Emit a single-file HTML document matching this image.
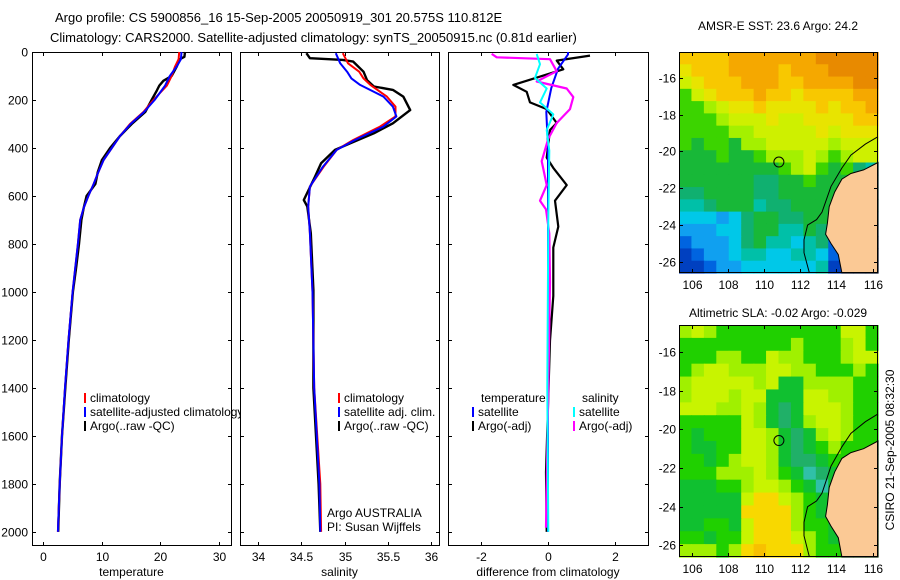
<!DOCTYPE html>
<html><head><meta charset="utf-8">
<style>
html,body{margin:0;padding:0;background:#fff;}
svg{display:block;font-family:"Liberation Sans",sans-serif;}
text{font-size:12px;fill:#000;}
</style></head>
<body>
<svg id="fig" width="900" height="580" viewBox="0 0 900 580" xmlns="http://www.w3.org/2000/svg">
<text x="55" y="22" style="font-size:13px">Argo profile: CS 5900856_16 15-Sep-2005 20050919_301 20.575S 110.812E</text>
<text x="50" y="42" style="font-size:13px">Climatology: CARS2000. Satellite-adjusted climatology: synTS_20050915.nc (0.81d earlier)</text>
<text x="778" y="30" text-anchor="middle">AMSR-E SST: 23.6 Argo: 24.2</text>
<text x="778" y="317" text-anchor="middle">Altimetric SLA: -0.02 Argo: -0.029</text>
<text transform="translate(894,450) rotate(-90)" text-anchor="middle">CSIRO 21-Sep-2005 08:32:30</text>
</svg>
<script>
// ---- data ----
const depthTicks = [0,200,400,600,800,1000,1200,1400,1600,1800,2000];
const tempTicks = [0,10,20,30];
const salTicks = [34,34.5,35,35.5,36];
const salTickLabels = ["34","34.5","35","35.5","36"];
const diffTicks = [-2,0,2];
const lonTicks = [106,108,110,112,114,116];
const latTicks = [-16,-18,-20,-22,-24,-26];

const tArgoDepth = [0,20,30,60,100,120,140,160,200,250,300,350,400,450,500,550,600,650,700,800,900,1000,1200,1400,1600,1800,2000];
const tArgo = [24.2,24.1,23.3,22.8,21.9,20.5,19.8,19.4,18.5,17.4,15.1,13.1,11.4,10.0,9.3,8.9,7.4,6.9,6.5,6.1,5.6,5.05,4.35,3.75,3.2,2.8,2.55];
const tClimDepth = [0,30,60,100,140,200,250,300,350,400,450,500,550,600,650,700,800,1000,1200,1400,1600,1800,2000];
const tClim = [23.2,23.1,22.5,21.9,21.1,18.8,17.1,14.8,13.1,11.7,10.3,9.4,8.6,7.7,6.9,6.3,5.9,5.0,4.3,3.7,3.2,2.8,2.5];
const tSat = [23.6,23.5,22.8,21.6,20.8,19.0,17.2,14.9,13.1,11.7,10.3,9.4,8.6,7.7,6.9,6.3,5.9,5.0,4.3,3.7,3.2,2.8,2.5];

const sArgoDepth = [5,26,33,40,82,117,144,158,186,242,297,339,380,408,464,519,617,644,755,992,1400,1800,2000];
const sArgo = [34.56,34.6,34.98,35.10,35.22,35.26,35.34,35.56,35.68,35.76,35.56,35.34,35.07,34.89,34.73,34.66,34.53,34.57,34.61,34.64,34.64,34.70,34.72];
const sClimDepth = [5,47,82,110,137,186,228,269,311,367,408,478,561,644,755,1000,1400,1800,2000];
const sClim = [34.98,35.04,35.17,35.22,35.30,35.49,35.59,35.59,35.41,35.10,34.91,34.76,34.60,34.58,34.60,34.63,34.65,34.72,34.73];
const sSat = [34.90,34.95,35.03,35.08,35.18,35.45,35.56,35.60,35.45,35.12,34.91,34.75,34.60,34.58,34.60,34.63,34.65,34.71,34.72];

const dTArgoDepth = [15,36,72,137,166,210,238,296,325,440,483,555,620,728,815,1017,1204,1752,2000];
const dTArgo = [1.26,0.26,0.46,-1.04,-0.64,-0.54,-0.04,0.26,0.06,-0.04,0.16,0.56,0.21,0.31,0.16,0.16,0.06,-0.06,-0.04];
const dTSatDepth = [0,10,70,150,250,400,1000,2000];
const dTSat = [0.6,0.6,0.3,0.1,-0.05,0.0,0.0,0.0];
const dSArgoDepth = [8,22,30,80,123,152,188,238,296,361,455,555,620,656,757,959,1300,1983];
const dSArgo = [-1.69,-1.54,0.06,0.26,-0.34,0.56,0.76,0.66,0.26,0.01,-0.19,-0.04,-0.24,-0.06,0.04,0.06,0.02,-0.06];
const dSSatDepth = [8,51,108,152,210,260,325,411,700,1400,2000];
const dSSat = [-0.34,-0.24,-0.39,-0.04,-0.24,0.16,-0.04,0.04,0.01,-0.02,0.01];

const sstGrid = [
"YYYYoooooooOOOOO","yYYYooooYoooOOOO","ZyYYYoooYYooooOO","GZyYYYoYYyYYYYoo",
"GGLZyyYyyyyYyYYo","GGGLZZZyZZyyyyYY","GGGGLLZZZZZyZyyy","GgGGgLLZZZZZLZZZ",
"gggGggGLLLZLGLZZ","ggggggggGLZGgGtc","ggggggttggGgggcc","ttggggttgggggtcc",
"cctgggcttggggccc","CCCbCtggttggcCCC","bbbCCtggccgtcbbb","BbbbCtgccCctBBBB",
"DBbbCccCCccCBDDD","DDBbbCCCCCCcDDDD"];
const slaGrid = [
"LZLGGGGGGGGGGZZG","GGGGGGGGGLGGGLZG","GGGLLGGZLLGGGLZZ","GLZZLLLZZLLGGGLG",
"LZZZZZLZggLLLLGG","LZZZLZZgggZZLLGG","ZZZLLZLgtgZZZLGG","GGGGGZLgtgLZZLGG",
"GgGGGZZLgtgLZLGG","GggGGZZLgtgGLGGG","GGgGLZZLgttgGGGG","GGGLLLZLGgctgGGG",
"gggGGLZZLGgcgGGG","gggggZYYZLGgGGGG","gggggYYYYLGgGGGG","ggGGgZYYYLGGgGGG",
"GGgGGZYYYZLGgGGG","LLLGLYoYYYLGGGGG"];
const sstColors = {O:"#e88a00",o:"#f5a800",Y:"#f8c800",y:"#e8e400",Z:"#cef000",L:"#a4f000",G:"#3cd400",g:"#18b838",t:"#10b070",c:"#00c0a8",C:"#00c8e8",b:"#10a0f0",B:"#0064e0",D:"#0040c0"};
const slaColors = {G:"#20d000",g:"#10c030",t:"#20b068",c:"#30c0a8",L:"#a0f000",Z:"#c8f400",y:"#e8f000",Y:"#f8d800",o:"#f8c000"};
const coastLon = [116.3,115.5,114.8,114.3,113.9,113.6,113.5,113.4,113.7,114.1,114.3,116.3];
const coastLat = [-20.6,-21.0,-21.2,-21.5,-22.2,-23.0,-23.9,-24.5,-25.0,-25.6,-26.6,-26.6];
const isoLon = [116.3,115.6,114.8,114.3,113.7,113.2,112.9,112.4,112.2,112.2,112.5];
const isoLat = [-19.2,-19.6,-20.2,-20.9,-21.9,-23.3,-23.7,-24.0,-24.8,-25.5,-26.6];
const argoLon = 110.812, argoLat = -20.575;

// ---- helpers ----
const NS = "http://www.w3.org/2000/svg";
const svg = document.getElementById("fig");
function mk(tag, attrs, parent) {
  const e = document.createElementNS(NS, tag);
  for (const k in attrs) e.setAttribute(k, attrs[k]);
  (parent || svg).appendChild(e);
  return e;
}
const Y0 = 52, Y1 = 545, DMAX = 2055;
function yD(d) { return Y0 + (Y1 - Y0) * d / DMAX; }
function lin(d0, d1, r0, r1) { return v => r0 + (v - d0) * (r1 - r0) / (d1 - d0); }

const panels = [
  {name:"temperature", x0:32, x1:231, sx: lin(0,30,43.3,219), ticks: tempTicks, labels: tempTicks.map(String), xlabel:"temperature", depthLabels:true},
  {name:"salinity", x0:240, x1:439, sx: lin(34,36,258,431), ticks: salTicks, labels: salTickLabels, xlabel:"salinity", depthLabels:false},
  {name:"difference", x0:448, x1:648, sx: lin(-3,3,448,648), ticks: diffTicks, labels: diffTicks.map(String), xlabel:"difference from climatology", depthLabels:false}
];

panels.forEach(p => {
  const g = mk("g", {});
  
  
  const fr = mk("rect", {x:p.x0+0.5, y:Y0+0.5, width:p.x1-p.x0, height:Y1-Y0, fill:"#fff", stroke:"#000", "stroke-width":1}, g);
  
  
  depthTicks.forEach(d => {
    const y = Math.round(yD(d)) + 0.5;
    const t1 = mk("line", {x1:p.x0, y1:y, x2:p.x0+4, y2:y, stroke:"#000"}, g);
    
    
    const t2 = mk("line", {x1:p.x1-3, y1:y, x2:p.x1+1, y2:y, stroke:"#000"}, g);
    
    
    if (p.depthLabels) {
      const tl = mk("text", {x:28, y:y+4, "text-anchor":"end"}, g);
      
      
      tl.textContent = d;
    }
  });
  p.ticks.forEach((v, i) => {
    const x = Math.round(p.sx(v)) + 0.5;
    const b = mk("line", {x1:x, y1:Y1-3, x2:x, y2:Y1+1, stroke:"#000"}, g);
    
    
    const t = mk("line", {x1:x, y1:Y0, x2:x, y2:Y0+4, stroke:"#000"}, g);
    
    
    const tl = mk("text", {x:x, y:561, "text-anchor":"middle"}, g);
    
    
    tl.textContent = p.labels[i];
  });
  const xl = mk("text", {x:(p.x0+p.x1)/2, y:576, "text-anchor":"middle"}, g);
  
  
  xl.textContent = p.xlabel;
  p.g = g;
});
const dl = mk("text", {x:28, y:Y0+4, "text-anchor":"end"});



function profile(p, depths, vals, color, w, name) {
  const pts = depths.map((d, i) => p.sx(vals[i]).toFixed(1) + "," + yD(d).toFixed(1)).join(" ");
  const pl = mk("polyline", {points:pts, fill:"none", stroke:color, "stroke-width":w, "stroke-linejoin":"round"}, p.g);
  
  
}
const [P1, P2, P3] = panels;
profile(P1, tArgoDepth, tArgo, "#000", 2.4, "temp-argo-line");
profile(P1, tClimDepth, tClim, "#f00", 2, "temp-climatology-line");
profile(P1, tClimDepth, tSat, "#00f", 2, "temp-satellite-line");
profile(P2, sArgoDepth, sArgo, "#000", 2.4, "sal-argo-line");
profile(P2, sClimDepth, sClim, "#f00", 2, "sal-climatology-line");
profile(P2, sClimDepth, sSat, "#00f", 2, "sal-satellite-line");
profile(P3, dTArgoDepth, dTArgo, "#000", 2.2, "diff-temp-argo-line");
profile(P3, dTSatDepth, dTSat, "#00f", 2, "diff-temp-satellite-line");
profile(P3, dSArgoDepth, dSArgo, "#f0f", 2.2, "diff-sal-argo-line");
profile(P3, dSSatDepth, dSSat, "#0ff", 2, "diff-sal-satellite-line");

function legend(g, x, y, color, label, name) {
  if (color) {
    const m = mk("rect", {x:x, y:y-9, width:2, height:10, fill:color}, g);
    
    
  }
  const t = mk("text", {x:x+6, y:y}, g);
  
  
  t.textContent = label;
}
legend(P1.g, 84, 402, "#f00", "climatology", "legend-t-climatology");
legend(P1.g, 84, 416, "#00f", "satellite-adjusted climatology", "legend-t-satellite");
legend(P1.g, 84, 430, "#000", "Argo(..raw -QC)", "legend-t-argo");
// panel 2 covers overflow of panel-1 legend
P2.g.parentNode.appendChild(P2.g);
legend(P2.g, 338, 402, "#f00", "climatology", "legend-s-climatology");
legend(P2.g, 338, 416, "#00f", "satellite adj. clim.", "legend-s-satellite");
legend(P2.g, 338, 430, "#000", "Argo(..raw -QC)", "legend-s-argo");
legend(P2.g, 321, 517, null, "Argo AUSTRALIA", "argo-australia-label");
legend(P2.g, 321, 531, null, "PI: Susan Wijffels", "pi-label");
legend(P3.g, 475, 402, null, "temperature", "legend-temperature-header");
legend(P3.g, 472, 416, "#00f", "satellite", "legend-d-temp-satellite");
legend(P3.g, 472, 430, "#000", "Argo(-adj)", "legend-d-temp-argo");
legend(P3.g, 576, 402, null, "salinity", "legend-salinity-header");
legend(P3.g, 573, 416, "#0ff", "satellite", "legend-d-sal-satellite");
legend(P3.g, 573, 430, "#f0f", "Argo(-adj)", "legend-d-sal-argo");

// ---- maps ----
function drawMap(name, y0, y1, grid, colors) {
  const x0 = 679, x1 = 878;
  const sx = lin(105.28, 116.3, x0, x1);
  const sy = lin(-14.6, -26.6, y0, y1);
  const g = mk("g", {});
  
  
  const cw = (x1 - x0) / grid[0].length, ch = (y1 - y0) / grid.length;
  grid.forEach((row, r) => {
    for (let c = 0; c < row.length; c++) {
      const cell = mk("rect", {x:(x0 + c*cw).toFixed(2), y:(y0 + r*ch).toFixed(2), width:(cw+0.6).toFixed(2), height:(ch+0.6).toFixed(2), fill:colors[row[c]]}, g);
      
      
    }
  });
  const land = mk("polygon", {points: coastLon.map((l,i)=>sx(l).toFixed(1)+","+sy(coastLat[i]).toFixed(1)).join(" "), fill:"#fbc995", stroke:"#000", "stroke-width":1}, g);
  
  
  const iso = mk("polyline", {points: isoLon.map((l,i)=>sx(l).toFixed(1)+","+sy(isoLat[i]).toFixed(1)).join(" "), fill:"none", stroke:"#000", "stroke-width":1}, g);
  
  
  const fr = mk("rect", {x:x0+0.5, y:y0+0.5, width:x1-x0-1, height:y1-y0-1, fill:"none", stroke:"#000"}, g);
  
  
  lonTicks.forEach(l => {
    const x = Math.round(sx(l)) + 0.5;
    const t1 = mk("line", {x1:x, y1:y0, x2:x, y2:y0+4, stroke:"#000"}, g);
    
    
    const t2 = mk("line", {x1:x, y1:y1-4, x2:x, y2:y1, stroke:"#000"}, g);
    
    
    const tl = mk("text", {x:x, y:y1+16, "text-anchor":"middle"}, g);
    
    
    tl.textContent = l;
  });
  latTicks.forEach(l => {
    const y = Math.round(sy(l)) + 0.5;
    const t1 = mk("line", {x1:x0, y1:y, x2:x0+4, y2:y, stroke:"#000"}, g);
    
    
    const t2 = mk("line", {x1:x1-4, y1:y, x2:x1, y2:y, stroke:"#000"}, g);
    
    
    const tl = mk("text", {x:676, y:y+4, "text-anchor":"end"}, g);
    
    
    tl.textContent = l;
  });
  const m = mk("circle", {cx:sx(argoLon), cy:sy(argoLat), r:5, fill:"none", stroke:"#000", "stroke-width":1}, g);
  
  
}
drawMap("sst-map", 52, 273, sstGrid, sstColors);
drawMap("sla-map", 325, 557, slaGrid, slaColors);
</script>
</body></html>
